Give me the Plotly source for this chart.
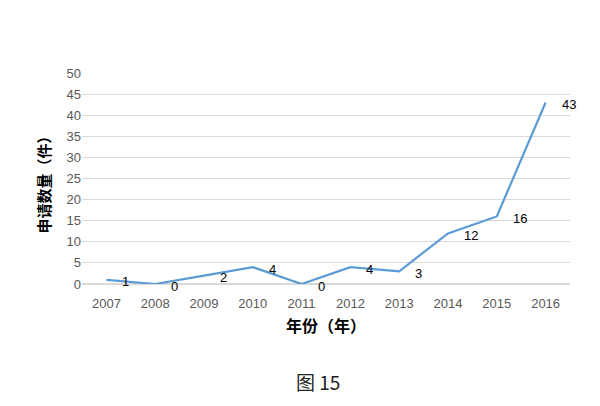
import plotly.graph_objects as go

years = ["2007", "2008", "2009", "2010", "2011", "2012", "2013", "2014", "2015", "2016"]
counts = [1, 0, 2, 4, 0, 4, 3, 12, 16, 43]
y_ticks = [0, 5, 10, 15, 20, 25, 30, 35, 40, 45, 50]

fig = go.Figure()
fig.add_trace(go.Scatter(
    x=years, y=counts, mode="lines",
    line=dict(color="#5B9BD5", width=2.2),
    hoverinfo="skip", showlegend=False,
))
for i, v in enumerate(counts):
    fig.add_annotation(x=i, y=v, text=str(v), showarrow=False,
                       xanchor="left", yanchor="middle", xshift=14, yshift=-2,
                       font=dict(family="Liberation Sans, Arial", size=13, color="#000000"))

fig.add_annotation(xref="paper", yref="paper", x=0.5, y=-0.194, text="<b>年份（年）</b>",
                   showarrow=False, xanchor="center", yanchor="middle",
                   font=dict(family="Noto Sans CJK SC", size=16, color="#000000"))
fig.add_annotation(xref="paper", yref="paper", x=-0.078, y=0.49, text="<b>申请数量（件）</b>",
                   textangle=-90, showarrow=False, xanchor="center", yanchor="middle",
                   font=dict(family="Noto Sans CJK SC", size=15, color="#000000"))
fig.add_annotation(xref="paper", yref="paper", x=0.484, y=-0.46, text="图 15",
                   showarrow=False, xanchor="center", yanchor="middle",
                   font=dict(family="Noto Sans CJK SC", size=19, color="#222222"))

fig.update_layout(
    width=592, height=398,
    margin=dict(l=74, r=30, t=65, b=122),
    paper_bgcolor="white", plot_bgcolor="white",
    xaxis=dict(type="category", range=[-0.5, 9.5], showgrid=False, showline=False,
               ticks="", ticklabelstandoff=10,
               tickfont=dict(family="Liberation Sans, Arial", size=13, color="#595959")),
    yaxis=dict(range=[0, 50], tickvals=y_ticks, showgrid=True, gridcolor="#D9D9D9",
               gridwidth=1, zeroline=True, zerolinecolor="#D9D9D9", showline=False, ticks="",
               tickfont=dict(family="Liberation Sans, Arial", size=13, color="#595959")),
)
fig.write_html("out.html")
